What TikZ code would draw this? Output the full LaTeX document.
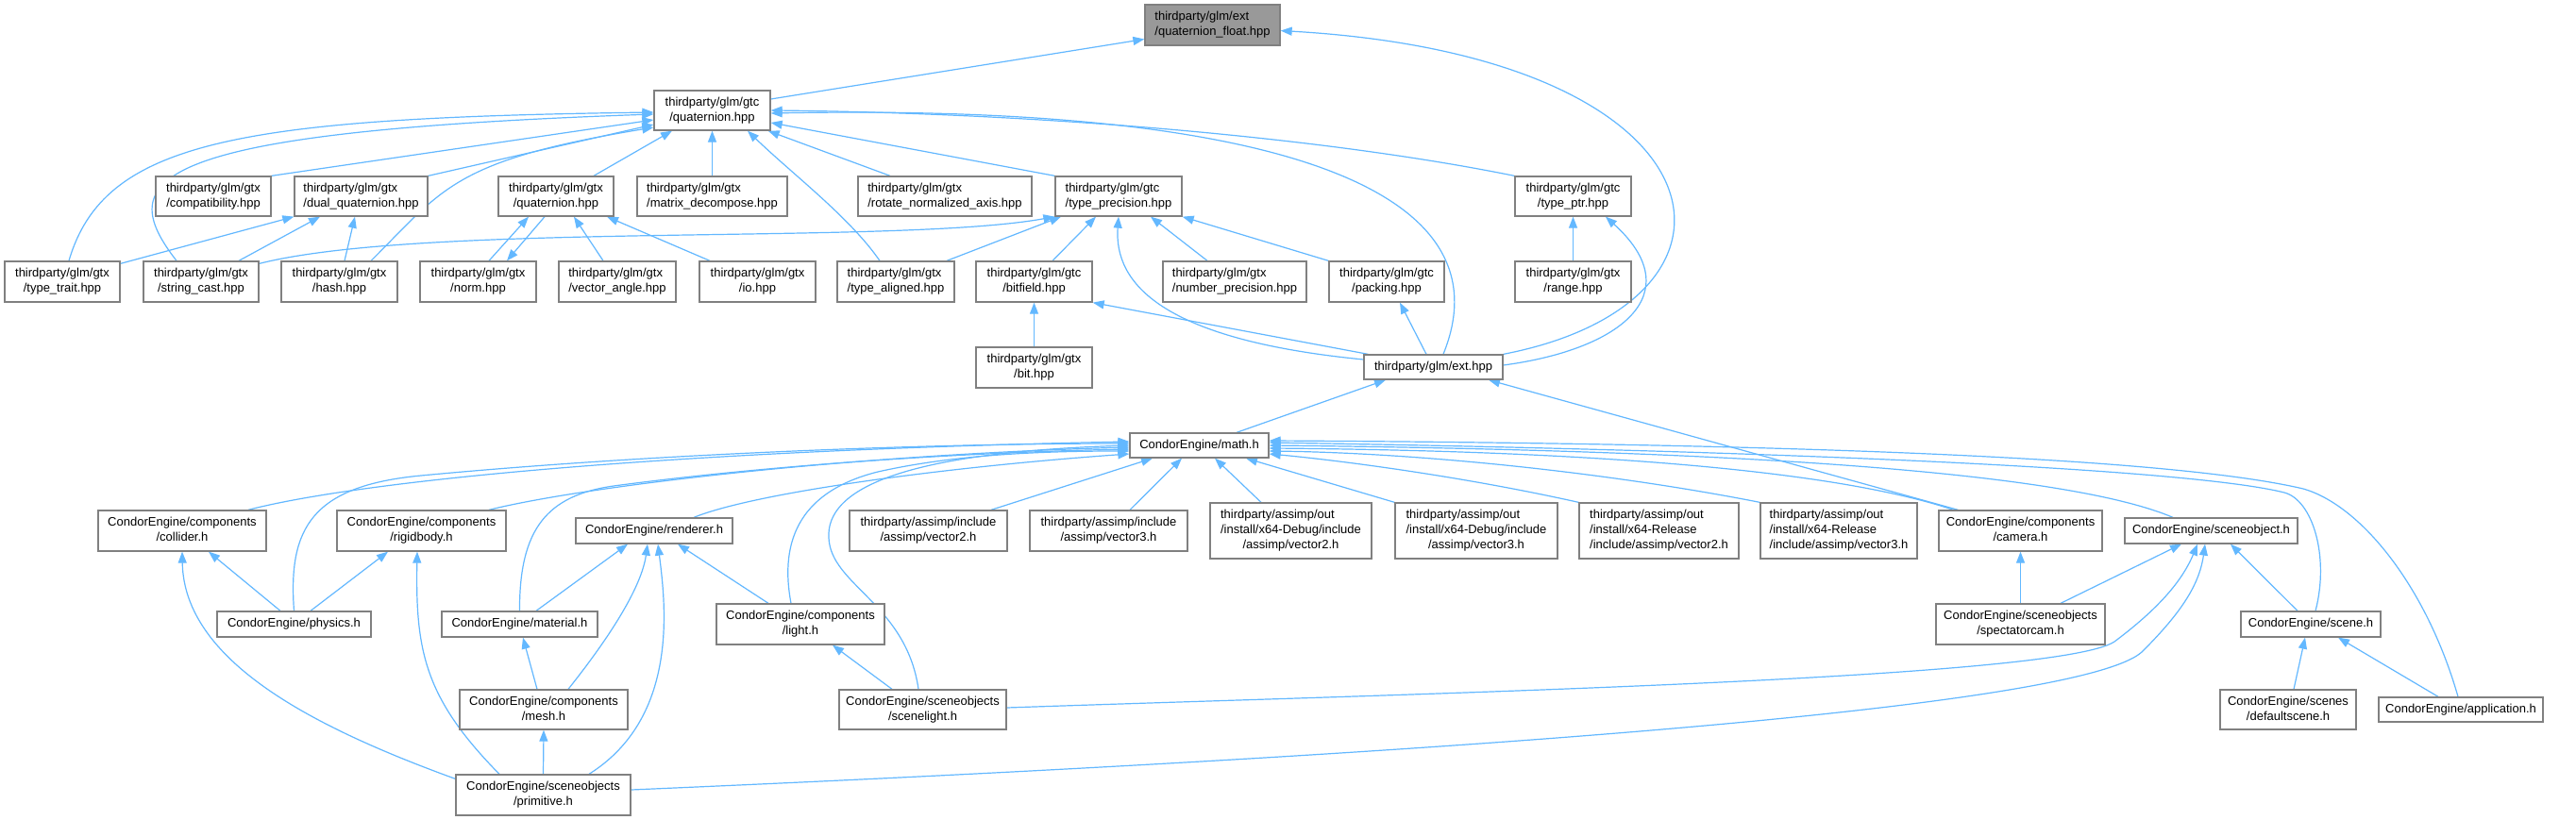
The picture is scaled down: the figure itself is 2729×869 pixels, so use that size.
\documentclass[tikz,border=0pt]{standalone}
\usepackage{fontspec}
\setmainfont{Liberation Sans}
\usetikzlibrary{arrows.meta,calc}
\definecolor{edgeblue}{HTML}{63B8FF}
\definecolor{boxgray}{HTML}{808080}
\definecolor{rootfill}{HTML}{999999}
\newcommand\LL[2]{\begin{tabular}{@{}l@{}}#1\\\multicolumn{1}{@{}c@{}}{#2}\end{tabular}}
\newcommand\LLL[3]{\begin{tabular}{@{}l@{}}#1\\#2\\\multicolumn{1}{@{}c@{}}{#3}\end{tabular}}
\newcommand\mybox[6]{\node[box,minimum width=#4pt,minimum height=#5pt] (#1) at (#2,#3) {#6};}
\pgfdeclarelayer{back}
\pgfdeclarelayer{bg}
\pgfsetlayers{back,bg,main}
\tikzset{
  box/.style={draw=boxgray,fill=white,line width=1.3pt,inner sep=0pt,font=\fontsize{13}{16}\selectfont},
  e/.style={draw=edgeblue,line width=1.2pt,-{Triangle[length=12pt,width=9pt]}}
}
\begin{document}
\begin{tikzpicture}[x=1pt,y=-1pt]
\begin{pgfonlayer}{back}
\fill[white] (0,0) rectangle (2729,869);
\end{pgfonlayer}
\useasboundingbox (0,0) rectangle (2729,869);
% nodes
\node[box,fill=rootfill,minimum width=143pt,minimum height=43pt] (qf) at (1284.5,26.5) {\LL{thirdparty/glm/ext}{/quaternion\_float.hpp}};
\mybox{gq}{754.5}{117}{123}{42}{\LL{thirdparty/glm/gtc}{/quaternion.hpp}}
\mybox{compat}{226}{208}{122}{42}{\LL{thirdparty/glm/gtx}{/compatibility.hpp}}
\mybox{dualq}{382.5}{208}{141}{42}{\LL{thirdparty/glm/gtx}{/dual\_quaternion.hpp}}
\mybox{xq}{589}{208}{122}{42}{\LL{thirdparty/glm/gtx}{/quaternion.hpp}}
\mybox{matdec}{754.5}{208}{159}{42}{\LL{thirdparty/glm/gtx}{/matrix\_decompose.hpp}}
\mybox{rotnorm}{1001}{208}{184}{42}{\LL{thirdparty/glm/gtx}{/rotate\_normalized\_axis.hpp}}
\mybox{tprec}{1185}{208}{134}{42}{\LL{thirdparty/glm/gtc}{/type\_precision.hpp}}
\mybox{tptr}{1666.5}{208}{123}{42}{\LL{thirdparty/glm/gtc}{/type\_ptr.hpp}}
\mybox{ttrait}{66}{298.5}{122}{43}{\LL{thirdparty/glm/gtx}{/type\_trait.hpp}}
\mybox{strcast}{213}{298.5}{122}{43}{\LL{thirdparty/glm/gtx}{/string\_cast.hpp}}
\mybox{hash}{359.5}{298.5}{123}{43}{\LL{thirdparty/glm/gtx}{/hash.hpp}}
\mybox{norm}{506.5}{298.5}{123}{43}{\LL{thirdparty/glm/gtx}{/norm.hpp}}
\mybox{vangle}{654}{298.5}{124}{43}{\LL{thirdparty/glm/gtx}{/vector\_angle.hpp}}
\mybox{io}{802.5}{298.5}{123}{43}{\LL{thirdparty/glm/gtx}{/io.hpp}}
\mybox{taligned}{949}{298.5}{124}{43}{\LL{thirdparty/glm/gtx}{/type\_aligned.hpp}}
\mybox{bitfield}{1095.5}{298.5}{123}{43}{\LL{thirdparty/glm/gtc}{/bitfield.hpp}}
\mybox{numprec}{1308}{298.5}{152}{43}{\LL{thirdparty/glm/gtx}{/number\_precision.hpp}}
\mybox{packing}{1469}{298.5}{122}{43}{\LL{thirdparty/glm/gtc}{/packing.hpp}}
\mybox{range}{1666.5}{298.5}{123}{43}{\LL{thirdparty/glm/gtx}{/range.hpp}}
\mybox{bit}{1095.5}{389.5}{123}{43}{\LL{thirdparty/glm/gtx}{/bit.hpp}}
\mybox{ext}{1518.5}{389}{147}{26}{thirdparty/glm/ext.hpp}
\mybox{math}{1270.5}{472}{147}{26}{CondorEngine/math.h}
\mybox{collider}{193}{562.5}{178}{43}{\LL{CondorEngine/components}{/collider.h}}
\mybox{rigidbody}{446.5}{562.5}{179}{43}{\LL{CondorEngine/components}{/rigidbody.h}}
\mybox{renderer}{693}{562.5}{166}{27}{CondorEngine/renderer.h}
\mybox{av2}{983.5}{562.5}{167}{43}{\LL{thirdparty/assimp/include}{/assimp/vector2.h}}
\mybox{av3}{1174.5}{562.5}{167}{43}{\LL{thirdparty/assimp/include}{/assimp/vector3.h}}
\mybox{dv2}{1367.5}{562.5}{171}{59}{\LLL{thirdparty/assimp/out}{/install/x64-Debug/include}{/assimp/vector2.h}}
\mybox{dv3}{1564}{562.5}{172}{59}{\LLL{thirdparty/assimp/out}{/install/x64-Debug/include}{/assimp/vector3.h}}
\mybox{rv2}{1757.5}{562.5}{169}{59}{\LLL{thirdparty/assimp/out}{/install/x64-Release}{/include/assimp/vector2.h}}
\mybox{rv3}{1948}{562.5}{166}{59}{\LLL{thirdparty/assimp/out}{/install/x64-Release}{/include/assimp/vector3.h}}
\mybox{camera}{2140.5}{562.5}{173}{43}{\LL{CondorEngine/components}{/camera.h}}
\mybox{sceneobj}{2342.5}{562.5}{183}{27}{CondorEngine/sceneobject.h}
\mybox{physics}{311.5}{661.5}{163}{27}{CondorEngine/physics.h}
\mybox{material}{550.5}{661.5}{165}{27}{CondorEngine/material.h}
\mybox{light}{848}{661.5}{178}{43}{\LL{CondorEngine/components}{/light.h}}
\mybox{spectatorcam}{2140.5}{661.5}{179}{43}{\LL{CondorEngine/sceneobjects}{/spectatorcam.h}}
\mybox{scene}{2448}{661.5}{148}{27}{CondorEngine/scene.h}
\mybox{mesh}{576}{752}{178}{42}{\LL{CondorEngine/components}{/mesh.h}}
\mybox{scenelight}{977.5}{752}{177}{42}{\LL{CondorEngine/sceneobjects}{/scenelight.h}}
\mybox{defaultscene}{2424}{752}{144}{42}{\LL{CondorEngine/scenes}{/defaultscene.h}}
\mybox{application}{2607}{752}{174}{26}{CondorEngine/application.h}
\mybox{primitive}{575.5}{842.5}{185}{43}{\LL{CondorEngine/sceneobjects}{/primitive.h}}
% edges
\begin{pgfonlayer}{bg}
\draw[e] ($(gq.east)+(0,-12)$) -- ($(qf.west)+(0,15)$);
\draw[e] (ext.north east) .. controls (1880,320) and (1840,60) .. ($(qf.east)+(0,6)$);
\draw[e] ($(ttrait.north)+(7,0)$) .. controls (110,150) and (250,125) .. ($(gq.west)+(0,2)$);
\draw[e] ($(strcast.north)+(-26,0)$) .. controls (120,190) and (150,140) .. ($(gq.west)+(0,4)$);
\draw[e] (compat.north east) -- ($(gq.west)+(0,10)$);
\draw[e] (dualq.north east) -- ($(gq.west)+(0,15)$);
\draw[e] ($(hash.north)+(33.5,0)$) .. controls (470,200) and (480,170) .. ($(gq.west)+(0,18)$);
\draw[e] ($(xq.north)+(40,0)$) -- ($(gq.south)+(-42.5,0)$);
\draw[e] (matdec.north) -- (gq.south);
\draw[e] ($(taligned.north)+(-17,0)$) .. controls (900,230) and (840,185) .. ($(gq.south)+(37.5,0)$);
\draw[e] ($(rotnorm.north)+(-58,0)$) -- ($(gq.south east)+(-3,0)$);
\draw[e] (tprec.north west) -- ($(gq.east)+(0,13)$);
\draw[e] ($(ext.north)+(10.5,0)$) .. controls (1600,200) and (1350,110) .. ($(gq.east)+(0,3)$);
\draw[e] (tptr.north west) .. controls (1400,145) and (1100,120) .. (gq.east);
\draw[e] ($(ttrait.north east)+(0,3)$) -- (dualq.south west);
\draw[e] ($(strcast.north)+(40,0)$) -- ($(dualq.south)+(-43.5,0)$);
\draw[e] ($(hash.north)+(5.5,0)$) -- ($(dualq.south)+(-6.5,0)$);
\draw[e] ($(norm.north)+(11.5,0)$) -- ($(xq.south)+(-29,0)$);
\draw[e] ($(xq.south)+(-12,0)$) -- ($(norm.north)+(30.5,0)$);
\draw[e] ($(vangle.north)+(-15,0)$) -- ($(xq.south)+(19,0)$);
\draw[e] ($(io.north)+(-50.5,0)$) -- ($(xq.south)+(54,0)$);
\draw[e] ($(strcast.north east)+(0,3)$) .. controls (450,235) and (950,260) .. (tprec.south west);
\draw[e] ($(taligned.north)+(54,0)$) -- ($(tprec.south)+(-61,0)$);
\draw[e] ($(bitfield.north)+(19.5,0)$) -- ($(tprec.south)+(-24,0)$);
\draw[e] ($(numprec.north)+(-29,0)$) -- ($(tprec.south)+(34,0)$);
\draw[e] (packing.north west) -- (tprec.south east);
\draw[e] ($(ext.west)+(0,-8)$) .. controls (1230,360) and (1180,300) .. (tprec.south);
\draw[e] (range.north) -- (tptr.south);
\draw[e] ($(ext.east)+(0,-2)$) .. controls (1720,370) and (1790,310) .. ($(tptr.south)+(34.5,0)$);
\draw[e] (bit.north) -- (bitfield.south);
\draw[e] ($(ext.north west)+(5,0)$) -- (bitfield.south east);
\draw[e] ($(ext.north)+(-7.5,0)$) -- ($(packing.south)+(14,0)$);
\draw[e] ($(math.north)+(39.5,0)$) -- ($(ext.south)+(-50.5,0)$);
\draw[e] ($(camera.north west)+(21,0)$) -- ($(ext.south)+(58.5,0)$);
% into math.h
\draw[e] ($(collider.north)+(70,0)$) .. controls (380,510) and (700,478) .. ($(math.west)+(0,-4)$);
\draw[e] (physics.north) .. controls (305,560) and (330,515) .. (446,504) .. controls (700,480) and (1000,470) .. ($(math.west)+(0,-2)$);
\draw[e] ($(rigidbody.north)+(71.5,0)$) .. controls (620,515) and (900,482) .. ($(math.west)+(0,2)$);
\draw[e] (material.north) .. controls (550,560) and (580,525) .. (650,515) .. controls (800,495) and (1000,480) .. ($(math.west)+(0,4)$);
\draw[e] ($(renderer.north)+(42,0)$) .. controls (800,522) and (1000,495) .. ($(math.west)+(0,9)$);
\draw[e] ($(light.north)+(-10,0)$) .. controls (825,570) and (850,520) .. (930,500) .. controls (1010,482) and (1100,478) .. ($(math.west)+(0,6)$);
\draw[e] ($(scenelight.north)+(-4.5,0)$) .. controls (960,640) and (880,620) .. (878,570) .. controls (875,520) and (950,480) .. (math.west);
\draw[e] ($(av2.north)+(66.5,0)$) -- ($(math.south)+(-49.5,0)$);
\draw[e] ($(av3.north)+(22.5,0)$) -- ($(math.south)+(-18.5,0)$);
\draw[e] ($(dv2.north)+(-31.5,0)$) -- ($(math.south)+(16.5,0)$);
\draw[e] (dv3.north west) -- ($(math.south)+(49.5,0)$);
\draw[e] (rv2.north west) .. controls (1550,505) and (1420,488) .. ($(math.east)+(0,9)$);
\draw[e] (rv3.north west) .. controls (1700,500) and (1500,480) .. ($(math.east)+(0,6)$);
\draw[e] ($(camera.north west)+(16,0)$) .. controls (1950,500) and (1700,478) .. ($(math.east)+(0,3)$);
\draw[e] ($(sceneobj.north)+(-40.5,0)$) .. controls (2200,505) and (1900,478) .. (math.east);
\draw[e] ($(scene.north)+(5,0)$) .. controls (2468,590) and (2450,530) .. (2420,522) .. controls (2320,497) and (1900,478) .. ($(math.east)+(0,-3)$);
\draw[e] ($(application.north)+(-3,0)$) .. controls (2570,620) and (2500,535) .. (2440,518) .. controls (2300,485) and (1900,470) .. ($(math.east)+(0,-5)$);
% lower part
\draw[e] ($(physics.north)+(-14.5,0)$) -- ($(collider.south)+(28,0)$);
\draw[e] ($(primitive.north west)+(0,5)$) .. controls (330,770) and (195,700) .. (collider.south);
\draw[e] ($(physics.north)+(17.5,0)$) -- ($(rigidbody.south)+(-35.5,0)$);
\draw[e] ($(primitive.north)+(-46.5,0)$) .. controls (450,740) and (440,690) .. ($(rigidbody.south)+(-4.5,0)$);
\draw[e] ($(material.north)+(17.5,0)$) -- ($(renderer.south)+(-28,0)$);
\draw[e] ($(mesh.north)+(26,0)$) .. controls (650,670) and (680,620) .. ($(renderer.south)+(-7,0)$);
\draw[e] ($(primitive.north)+(48.5,0)$) .. controls (720,760) and (705,640) .. ($(renderer.south)+(4,0)$);
\draw[e] ($(light.north)+(-34,0)$) -- ($(renderer.south)+(25,0)$);
\draw[e] ($(mesh.north)+(-7,0)$) -- ($(material.south)+(3.5,0)$);
\draw[e] (primitive.north) -- (mesh.south);
\draw[e] ($(scenelight.north)+(-32.5,0)$) -- ($(light.south)+(34,0)$);
\draw[e] (spectatorcam.north) -- (camera.south);
\draw[e] ($(spectatorcam.north)+(42.5,0)$) -- ($(sceneobj.south)+(-31.5,0)$);
\draw[e] ($(scenelight.east)+(0,-2)$) .. controls (1500,735) and (2180,720) .. (2240,680) .. controls (2280,650) and (2310,620) .. ($(sceneobj.south)+(-14.5,0)$);
\draw[e] ($(primitive.east)+(0,-5.5)$) .. controls (1300,810) and (2200,760) .. (2270,690) .. controls (2310,650) and (2330,620) .. ($(sceneobj.south)+(-6.5,0)$);
\draw[e] ($(scene.north)+(-14,0)$) -- ($(sceneobj.south)+(20.5,0)$);
\draw[e] ($(defaultscene.north)+(6,0)$) -- ($(scene.south)+(-6,0)$);
\draw[e] ($(application.north)+(-24,0)$) -- ($(scene.south)+(29,0)$);
\end{pgfonlayer}
\end{tikzpicture}
\end{document}
